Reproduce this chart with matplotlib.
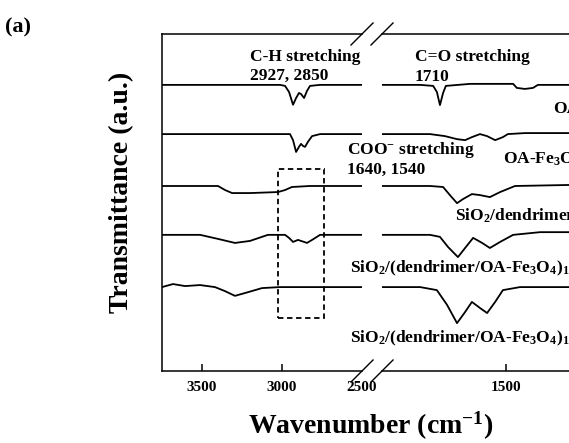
import matplotlib
matplotlib.use("Agg")
import matplotlib.pyplot as plt
from matplotlib.lines import Line2D
from matplotlib.patches import Rectangle

plt.rcParams['font.family'] = ['Liberation Serif', 'DejaVu Serif']
plt.rcParams['font.weight'] = 'bold'
plt.rcParams['mathtext.fontset'] = 'custom'
plt.rcParams['mathtext.rm'] = 'Liberation Serif:bold'
plt.rcParams['mathtext.it'] = 'Liberation Serif:bold'
plt.rcParams['mathtext.bf'] = 'Liberation Serif:bold'
plt.rcParams['mathtext.default'] = 'rm'

# ---- data (wavenumber in cm-1, transmittance in a.u., offset per trace) ----
# OA
oa_left_x = [3750, 3575, 3200, 3012, 2981, 2956, 2931, 2912, 2894, 2881, 2862, 2844, 2825, 2762, 2500]
oa_left_y = [84.9, 84.9, 84.9, 84.9, 84.6, 82.8, 79.0, 81.0, 82.5, 82.2, 81.0, 83.1, 84.6, 84.9, 84.9]
oa_right_x = [1900, 1777, 1735, 1723, 1713, 1703, 1694, 1616, 1477, 1465, 1439, 1413, 1397, 1297, 1132]
oa_right_y = [84.9, 84.9, 84.6, 82.8, 78.9, 82.5, 84.6, 85.2, 85.2, 84.0, 83.7, 84.0, 84.9, 84.9, 84.9]

# OA-Fe3O4
fe_left_x = [3750, 3200, 2950, 2931, 2912, 2894, 2881, 2869, 2856, 2838, 2812, 2762, 2500]
fe_left_y = [70.3, 70.3, 70.3, 68.5, 65.0, 66.5, 67.4, 66.8, 66.5, 68.0, 69.7, 70.3, 70.3]
fe_right_x = [1900, 1745, 1697, 1658, 1632, 1610, 1584, 1561, 1535, 1510, 1494, 1439, 1297, 1132]
fe_right_y = [70.3, 70.3, 69.7, 68.8, 68.5, 69.4, 70.3, 69.7, 68.5, 69.4, 70.3, 70.6, 70.6, 70.6]

# SiO2/dendrimer
sd_left_x = [3750, 3400, 3356, 3312, 3200, 3025, 2981, 2938, 2825, 2500]
sd_left_y = [54.9, 54.9, 53.7, 52.8, 52.8, 53.1, 53.7, 54.6, 54.9, 54.9]
sd_right_x = [1900, 1745, 1703, 1681, 1658, 1639, 1610, 1584, 1552, 1519, 1471, 1297, 1132]
sd_right_y = [54.9, 54.9, 54.6, 52.2, 49.8, 51.0, 52.5, 52.2, 51.6, 53.1, 54.9, 55.2, 55.2]

# SiO2/(dendrimer/OA-Fe3O4)1 (upper)
l1_left_x = [3750, 3512, 3400, 3294, 3200, 3088, 2981, 2956, 2931, 2900, 2862, 2844, 2812, 2762, 2500]
l1_left_y = [40.4, 40.4, 39.2, 38.0, 38.6, 40.4, 40.4, 39.5, 38.3, 38.9, 38.3, 38.0, 38.9, 40.4, 40.4]
l1_right_x = [1900, 1745, 1713, 1687, 1655, 1632, 1606, 1577, 1552, 1519, 1477, 1390, 1297, 1132]
l1_right_y = [40.4, 40.4, 39.8, 36.8, 33.8, 36.5, 39.5, 38.0, 36.5, 38.3, 40.4, 41.2, 41.2, 41.2]

# SiO2/(dendrimer/OA-Fe3O4)1.. (lower)
l2_left_x = [3750, 3681, 3606, 3512, 3419, 3356, 3294, 3212, 3125, 3012, 2500]
l2_left_y = [24.9, 25.8, 25.2, 25.5, 24.9, 23.7, 22.3, 23.4, 24.6, 24.9, 24.9]
l2_right_x = [1900, 1777, 1723, 1690, 1658, 1632, 1610, 1584, 1561, 1535, 1510, 1455, 1297, 1132]
l2_right_y = [24.9, 24.9, 24.0, 19.6, 14.2, 17.5, 20.5, 18.7, 17.2, 20.5, 24.0, 24.9, 24.9, 24.9]

left_ticks = [3500, 3000, 2500]
right_ticks = [1500, 1000]
box_x = [3025, 2738]
box_y = [15.7, 59.9]

# ---- figure ----
W, H = 569, 443
fig = plt.figure(figsize=(W / 100, H / 100), dpi=100)

def fx(px):
    return px / W

def fy(py):
    return 1 - py / H

ax1 = fig.add_axes([fx(162), fy(371), (362 - 162) / W, (371 - 34) / H])
ax2 = fig.add_axes([fx(382), fy(371), (661 - 382) / W, (371 - 34) / H])

lw = 1.1
for ax in (ax1, ax2):
    ax.set_ylim(0, 100)
    ax.set_yticks([])
    for s in ax.spines.values():
        s.set_linewidth(lw)
    ax.tick_params(axis='x', direction='in', length=5, width=lw, pad=7,
                   labelsize=11, top=False)
ax1.spines['right'].set_visible(False)
ax2.spines['left'].set_visible(False)
ax1.set_xlim(3750, 2500)
ax2.set_xlim(1900, 1000)
ax1.set_xticks(left_ticks)
ax2.set_xticks(right_ticks)
ax1.xaxis.get_major_ticks()[2].tick1line.set_visible(False)
for lab in ax1.get_xticklabels() + ax2.get_xticklabels():
    lab.set_fontweight('bold')

pairs = [
    (oa_left_x, oa_left_y, oa_right_x, oa_right_y),
    (fe_left_x, fe_left_y, fe_right_x, fe_right_y),
    (sd_left_x, sd_left_y, sd_right_x, sd_right_y),
    (l1_left_x, l1_left_y, l1_right_x, l1_right_y),
    (l2_left_x, l2_left_y, l2_right_x, l2_right_y),
]
for lx, ly, rx, ry in pairs:
    ax1.plot(lx, ly, color='black', lw=1.3, solid_joinstyle='round')
    ax2.plot(rx, ry, color='black', lw=1.3, solid_joinstyle='round')

ax1.add_patch(Rectangle((box_x[0], box_y[0]), box_x[1] - box_x[0], box_y[1] - box_y[0],
                        fill=False, ec='black', lw=1.3, ls=(0, (3, 2))))

# break marks
inv = fig.transFigure.inverted()
for ax, xa in ((ax1, 1), (ax2, 0)):
    for ya in (0, 1):
        dx, dy = ax.transAxes.transform((xa, ya))
        p0 = inv.transform((dx - 11, dy - 11))
        p1 = inv.transform((dx + 11, dy + 11))
        fig.add_artist(Line2D([p0[0], p1[0]], [p0[1], p1[1]], color='black',
                              lw=1.0, transform=fig.transFigure, clip_on=False))

def t(px, py, s, size=12.5):
    fig.text(fx(px), fy(py), s, fontsize=size, fontweight='bold',
             ha='left', va='baseline')

t(5, 32, '(a)', 16)
t(250, 61, 'C-H stretching')
t(250, 80, '2927, 2850')
t(415, 61, 'C=O stretching')
t(415, 81, '1710')
t(553, 113, 'OA')
t(347, 154, 'COO$^{-}$ stretching')
t(347, 174, '1640, 1540')
t(503, 164, 'OA-Fe$_3$O$_4$')
t(455, 221, 'SiO$_2$/dendrimer')
t(350, 272, 'SiO$_2$/(dendrimer/OA-Fe$_3$O$_4$)$_1$')
t(350, 342, 'SiO$_2$/(dendrimer/OA-Fe$_3$O$_4$)$_1$')

fig.text(fx(371), fy(434), 'Wavenumber (cm$^{-1}$)', fontsize=20, fontweight='bold',
         ha='center', va='baseline')
fig.text(fx(122), fy(192), 'Transmittance (a.u.)', fontsize=20, fontweight='bold',
         ha='center', va='center', rotation=90)

fig.savefig('out.png', dpi=100)
